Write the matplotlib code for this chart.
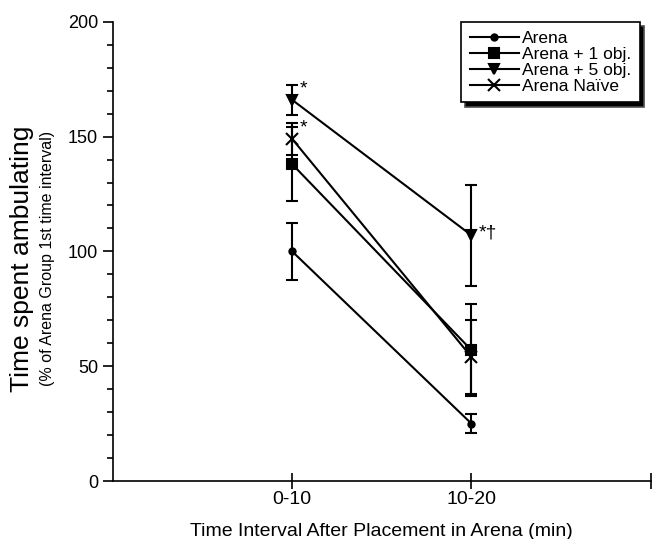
import matplotlib
matplotlib.use('Agg')
from matplotlib import pyplot as plt
from matplotlib.lines import Line2D
from matplotlib.ticker import MultipleLocator

plt.rcParams['font.family'] = ['Liberation Sans', 'DejaVu Sans']

# data
intervals = ['0-10', '10-20']
x_pos = [1, 2]
groups = ['Arena', 'Arena + 1 obj.', 'Arena + 5 obj.', 'Arena Naïve']
arena = [100, 25]
arena_err = [12.5, 4]
arena1 = [138, 57]
arena1_err = [16, 20]
arena5 = [166, 107]
arena5_err = [6.5, 22]
naive = [149, 54]
naive_err = [7, 16]
stars = [(1, 166, '*'), (1, 149, '*'), (2, 107, '*†')]

fig = plt.figure(figsize=(6.56, 5.39), dpi=100)
ax = fig.add_axes([0.172, 0.1076, 0.82, 0.852])

series = [(arena, arena_err, 'o', 4.5), (arena1, arena1_err, 's', 7.5),
          (arena5, arena5_err, 'v', 7.5), (naive, naive_err, 'x', 8)]
handles = []
for (vals, err, mk, ms), name in zip(series, groups):
    ax.errorbar(x_pos, vals, yerr=err, color='black', marker=mk, markersize=ms,
                markeredgewidth=1.5, linewidth=1.5, elinewidth=1.5,
                capsize=4.5, capthick=1.5)
    handles.append(Line2D([], [], color='black', marker=mk, markersize=ms,
                          markeredgewidth=1.5, linewidth=1.5, label=name))

for xs, ys, txt in stars:
    ax.text(xs + 0.04, ys + 1, txt, fontsize=14, va='bottom' if txt == '*' else 'center',
            ha='left')

ax.set_xlim(0, 3)
ax.set_ylim(0, 200)
ax.spines['top'].set_visible(False)
ax.spines['right'].set_visible(False)
ax.spines['left'].set_linewidth(1.2)
ax.spines['bottom'].set_linewidth(1.2)
ax.set_xticks([1, 2, 3])
ax.set_xticklabels(intervals + [''])
ax.tick_params(axis='x', direction='inout', length=12, width=1.2, labelsize=14, pad=1)
ax.yaxis.set_major_locator(MultipleLocator(50))
ax.yaxis.set_minor_locator(MultipleLocator(10))
ax.tick_params(axis='y', which='major', direction='out', length=7, width=1.2, labelsize=13)
ax.tick_params(axis='y', which='minor', direction='out', length=4, width=1.2)

ax.set_xlabel('Time Interval After Placement in Arena (min)', fontsize=14, labelpad=11)
fig.text(0.033, 0.52, 'Time spent ambulating', rotation=90, fontsize=19,
         ha='center', va='center')
fig.text(0.072, 0.52, '(% of Arena Group 1st time interval)', rotation=90, fontsize=11.5,
         ha='center', va='center')

leg = ax.legend(handles=handles, loc='upper right', bbox_to_anchor=(0.98, 1.0),
                borderaxespad=0, fontsize=12.5, fancybox=False, edgecolor='black',
                framealpha=1, handlelength=2.8, handletextpad=0.2, labelspacing=0.05,
                borderpad=0.5,
                shadow={'facecolor': 'black', 'alpha': 1, 'ox': 3, 'oy': -3})
leg.get_frame().set_linewidth(1.2)

plt.savefig('out.png', dpi=100)
